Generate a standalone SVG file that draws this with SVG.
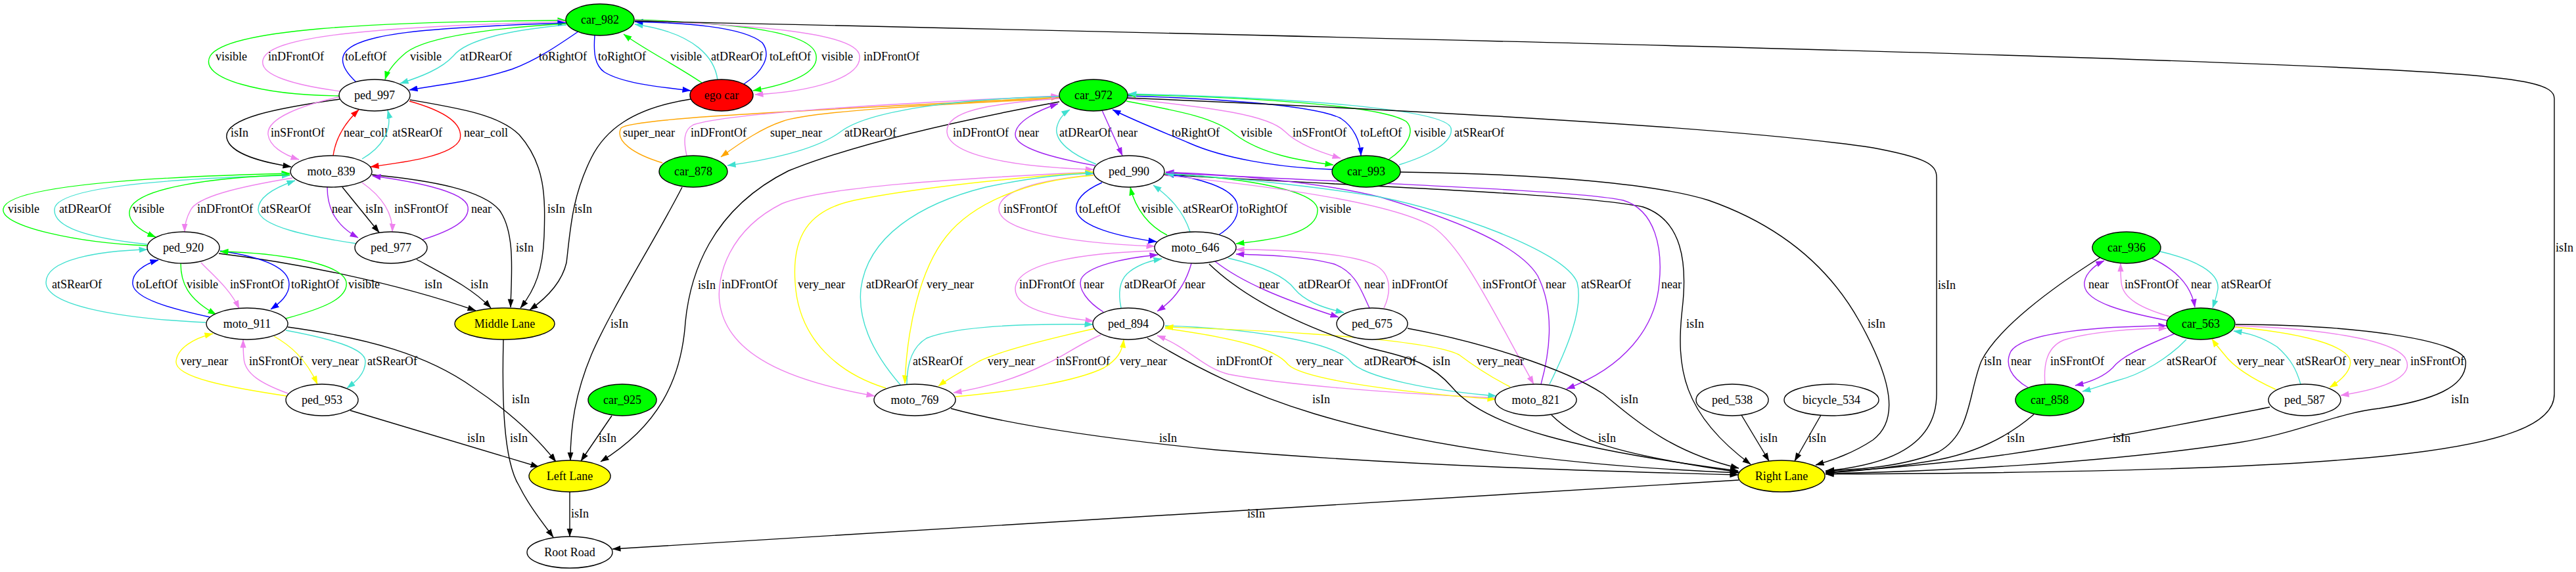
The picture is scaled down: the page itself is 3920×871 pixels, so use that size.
<svg xmlns="http://www.w3.org/2000/svg" width="3920" height="871" viewBox="0 0 3920 871">
<style>
.bg{fill:#fff}
.n ellipse{stroke:#000;stroke-width:1.4}
.w{fill:#fff}.c{fill:#00ff00}.eg{fill:#ff0000}.ln{fill:#ffff00}
text{font-family:"Liberation Serif","Times New Roman",serif;font-size:18px;fill:#000}
.n text{text-anchor:middle}
.e{fill:none;stroke-width:1.4}
.k{stroke:#000;marker-end:url(#mk)}
.g{stroke:#00ff00;marker-end:url(#mg)}
.b{stroke:#0000ff;marker-end:url(#mb)}
.v{stroke:#ee82ee;marker-end:url(#mv)}
.p{stroke:#a020f0;marker-end:url(#mp)}
.t{stroke:#40e0d0;marker-end:url(#mt)}
.r{stroke:#ff0000;marker-end:url(#mr)}
.y{stroke:#ffff00;marker-end:url(#my)}
.o{stroke:#ffa500;marker-end:url(#mo)}
</style>
<defs>
<marker id="mk" viewBox="0 0 13 10" refX="12.5" refY="5" markerWidth="13" markerHeight="10" markerUnits="userSpaceOnUse" orient="auto"><path d="M0,0.4 L13,5 L0,9.6 z" fill="#000"/></marker>
<marker id="mg" viewBox="0 0 13 10" refX="12.5" refY="5" markerWidth="13" markerHeight="10" markerUnits="userSpaceOnUse" orient="auto"><path d="M0,0.4 L13,5 L0,9.6 z" fill="#00ff00"/></marker>
<marker id="mb" viewBox="0 0 13 10" refX="12.5" refY="5" markerWidth="13" markerHeight="10" markerUnits="userSpaceOnUse" orient="auto"><path d="M0,0.4 L13,5 L0,9.6 z" fill="#0000ff"/></marker>
<marker id="mv" viewBox="0 0 13 10" refX="12.5" refY="5" markerWidth="13" markerHeight="10" markerUnits="userSpaceOnUse" orient="auto"><path d="M0,0.4 L13,5 L0,9.6 z" fill="#ee82ee"/></marker>
<marker id="mp" viewBox="0 0 13 10" refX="12.5" refY="5" markerWidth="13" markerHeight="10" markerUnits="userSpaceOnUse" orient="auto"><path d="M0,0.4 L13,5 L0,9.6 z" fill="#a020f0"/></marker>
<marker id="mt" viewBox="0 0 13 10" refX="12.5" refY="5" markerWidth="13" markerHeight="10" markerUnits="userSpaceOnUse" orient="auto"><path d="M0,0.4 L13,5 L0,9.6 z" fill="#40e0d0"/></marker>
<marker id="mr" viewBox="0 0 13 10" refX="12.5" refY="5" markerWidth="13" markerHeight="10" markerUnits="userSpaceOnUse" orient="auto"><path d="M0,0.4 L13,5 L0,9.6 z" fill="#ff0000"/></marker>
<marker id="my" viewBox="0 0 13 10" refX="12.5" refY="5" markerWidth="13" markerHeight="10" markerUnits="userSpaceOnUse" orient="auto"><path d="M0,0.4 L13,5 L0,9.6 z" fill="#ffff00"/></marker>
<marker id="mo" viewBox="0 0 13 10" refX="12.5" refY="5" markerWidth="13" markerHeight="10" markerUnits="userSpaceOnUse" orient="auto"><path d="M0,0.4 L13,5 L0,9.6 z" fill="#ffa500"/></marker>
</defs>
<rect class="bg" x="0" y="0" width="3920" height="871"/>
<g id="edges">
<path class="e g" d="M517,146 C400,145 300,120 320,85 C345,45 560,33 861,31"/><text x="328" y="92">visible</text>
<path class="e v" d="M518,139 C450,130 395,115 400,92 C405,60 520,42 861,33"/><text x="408" y="92">inDFrontOf</text>
<path class="e b" d="M542,125 C528,112 515,95 525,80 C545,52 640,42 861,35"/><text x="525" y="92">toLeftOf</text>
<path class="e g" d="M862,36 C760,42 650,55 618,80 C600,95 590,108 586,121"/><text x="624" y="92">visible</text>
<path class="e t" d="M862,38 C780,45 710,60 690,85 C672,105 640,117 609,127"/><text x="700" y="92">atDRearOf</text>
<path class="e b" d="M880,48 C845,72 815,92 780,105 C720,125 660,130 623,137"/><text x="820" y="92">toRightOf</text>
<path class="e b" d="M905,54 C903,80 905,100 920,110 C950,128 1010,133 1051,138"/><text x="910" y="92">toRightOf</text>
<path class="e g" d="M1068,126 C1030,100 980,75 949,52"/><text x="1020" y="92">visible</text>
<path class="e t" d="M1092,122 C1088,90 1060,50 966,37"/><text x="1082" y="92">atDRearOf</text>
<path class="e b" d="M1132,128 C1160,110 1175,85 1160,65 C1130,40 1040,35 966,33"/><text x="1171" y="92">toLeftOf</text>
<path class="e g" d="M966,30 C1100,35 1238,45 1242,85 C1246,115 1190,130 1146,138"/><text x="1250" y="92">visible</text>
<path class="e v" d="M966,31 C1150,38 1305,50 1308,85 C1312,120 1230,140 1149,144"/><text x="1314" y="92">inDFrontOf</text>
<path class="e k" d="M966,32 C2000,55 3300,85 3700,110 C3850,120 3887,130 3887,150 L3887,600 C3887,690 3600,718 2778,722"/><text x="3889" y="383">isIn</text>

<path class="e k" d="M517,151 C420,165 340,180 345,210 C350,235 400,247 443,254"/><text x="351" y="208">isIn</text>
<path class="e v" d="M519,147 C460,160 405,180 408,205 C410,222 430,235 455,243"/><text x="412" y="208">inSFrontOf</text>
<path class="e r" d="M507,237 C510,215 522,190 546,167"/><text x="523" y="208">near_coll</text>
<path class="e t" d="M551,242 C580,225 598,200 590,168"/><text x="597" y="208">atSRearOf</text>
<path class="e r" d="M623,154 C680,170 705,190 700,212 C690,238 610,248 564,254"/><text x="706" y="208">near_coll</text>
<path class="e k" d="M624,152 C700,165 760,175 790,205 C830,250 830,300 828,360 C826,410 815,440 792,469"/><text x="833" y="324">isIn</text>
<path class="e k" d="M1051,151 C960,165 920,200 900,240 C870,300 868,350 862,400 C855,430 830,455 806,472"/><text x="874" y="324">isIn</text>
<path class="e k" d="M566,266 C660,275 735,290 760,320 C785,355 778,420 777,468"/><text x="785" y="383">isIn</text>
<path class="e k" d="M634,395 C680,420 720,440 747,469"/><text x="716" y="439">isIn</text>
<path class="e k" d="M333,386 C450,400 600,430 724,473"/><text x="646" y="439">isIn</text>

<path class="e g" d="M224,374 C120,370 0,345 5,318 C10,285 200,270 441,264"/><text x="12" y="324">visible</text>
<path class="e t" d="M224,372 C130,362 80,345 83,318 C86,285 250,272 441,267"/><text x="90" y="324">atDRearOf</text>
<path class="e g" d="M441,266 C330,270 210,285 198,318 C192,335 210,350 237,361"/><text x="202" y="324">visible</text>
<path class="e v" d="M445,271 C360,285 300,300 290,320 C283,333 281,342 281,353"/><text x="300" y="324">inDFrontOf</text>
<path class="e t" d="M543,371 C470,360 395,345 393,320 C392,300 420,285 449,275"/><text x="397" y="324">atSRearOf</text>
<path class="e p" d="M498,285 C498,310 505,340 545,362"/><text x="505" y="324">near</text>
<path class="e k" d="M521,285 L577,354"/><text x="556" y="324">isIn</text>
<path class="e v" d="M551,278 C575,295 598,320 597,353"/><text x="600" y="324">inSFrontOf</text>
<path class="e p" d="M643,365 C690,350 715,335 712,315 C708,290 620,275 567,268"/><text x="717" y="324">near</text>

<path class="e t" d="M313,491 C180,485 70,465 70,430 C70,395 150,382 224,380"/><text x="79" y="439">atSRearOf</text>
<path class="e b" d="M320,483 C260,470 205,455 202,433 C200,415 220,402 241,396"/><text x="207" y="439">toLeftOf</text>
<path class="e g" d="M275,401 C275,430 285,455 329,479"/><text x="284" y="439">visible</text>
<path class="e v" d="M306,400 C325,420 350,440 364,470"/><text x="350" y="439">inSFrontOf</text>
<path class="e b" d="M335,382 C390,390 440,405 440,433 C440,450 425,462 412,471"/><text x="443" y="439">toRightOf</text>
<path class="e g" d="M435,485 C490,470 530,455 527,430 C522,400 420,385 335,383"/><text x="530" y="439">visible</text>

<path class="e y" d="M436,603 C350,590 265,575 268,550 C270,530 295,515 324,508"/><text x="275" y="556">very_near</text>
<path class="e v" d="M438,599 C400,585 372,570 371,545 C370,535 370,525 370,517"/><text x="379" y="556">inSFrontOf</text>
<path class="e y" d="M417,512 C440,525 465,545 483,585"/><text x="474" y="556">very_near</text>
<path class="e t" d="M435,503 C500,515 556,530 556,550 C556,570 540,582 528,591"/><text x="559" y="556">atSRearOf</text>

<path class="e k" d="M438,498 C560,515 650,540 720,590 C780,630 820,670 846,703"/><text x="779" y="614">isIn</text>
<path class="e k" d="M533,625 L820,711"/><text x="711" y="673">isIn</text>
<path class="e k" d="M931,633 L884,702"/><text x="911" y="673">isIn</text>
<path class="e k" d="M1038,285 C1000,360 930,470 900,540 C875,600 868,650 868,701"/><text x="929" y="499">isIn</text>
<path class="e k" d="M1612,155 C1450,185 1300,220 1200,260 C1080,320 1050,420 1043,490 C1037,580 1000,650 914,703"/><text x="1062" y="440">isIn</text>
<path class="e k" d="M766,517 C764,600 765,700 790,740 C805,770 825,795 842,818"/><text x="776" y="673">isIn</text>
<path class="e k" d="M867,749 L867,817"/><text x="869" y="788">isIn</text>
<path class="e k" d="M2646,731 L932,836"/><text x="1898" y="788">isIn</text>

<path class="e o" d="M1008,248 C965,235 935,215 945,195 C960,180 1200,170 1612,148"/><text x="948" y="208">super_near</text>
<path class="e v" d="M1045,237 C1040,215 1040,198 1055,190 C1100,175 1300,160 1612,146"/><text x="1051" y="208">inDFrontOf</text>
<path class="e o" d="M1612,150 C1400,160 1230,170 1190,185 C1160,195 1130,215 1097,239"/><text x="1172" y="208">super_near</text>
<path class="e t" d="M1612,147 C1450,150 1320,170 1280,200 C1240,230 1160,245 1107,252"/><text x="1285" y="208">atDRearOf</text>

<path class="e v" d="M1612,150 C1500,158 1440,170 1441,200 C1442,240 1560,255 1664,258"/><text x="1450" y="208">inDFrontOf</text>
<path class="e p" d="M1666,252 C1600,240 1545,225 1545,205 C1545,185 1580,168 1610,158"/><text x="1550" y="208">near</text>
<path class="e t" d="M1668,250 C1630,235 1605,215 1608,195 C1610,185 1615,175 1628,167"/><text x="1612" y="208">atDRearOf</text>
<path class="e p" d="M1677,168 L1708,237"/><text x="1700" y="208">near</text>

<path class="e b" d="M2027,258 C1940,255 1860,240 1810,218 C1760,197 1725,183 1693,167"/><text x="1783" y="208">toRightOf</text>
<path class="e g" d="M1714,154 C1800,170 1850,180 1880,205 C1920,235 1980,245 2029,251"/><text x="1888" y="208">visible</text>
<path class="e v" d="M1715,150 C1850,165 1930,175 1955,200 C1975,220 2010,232 2040,241"/><text x="1967" y="208">inSFrontOf</text>
<path class="e b" d="M1716,146 C1850,150 2000,160 2040,180 C2060,193 2070,215 2071,237"/><text x="2070" y="208">toLeftOf</text>
<path class="e g" d="M2113,243 C2140,225 2155,200 2140,185 C2100,160 1900,148 1716,144"/><text x="2152" y="208">visible</text>
<path class="e t" d="M2129,251 C2180,235 2212,215 2208,195 C2200,165 1950,148 1717,143"/><text x="2213" y="208">atSRearOf</text>
<path class="e k" d="M1716,149 C2200,170 2650,195 2850,225 C2930,240 2947,250 2947,270 L2947,600 C2947,690 2850,710 2779,717"/><text x="2949" y="440">isIn</text>
<path class="e k" d="M2131,262 C2350,265 2520,280 2600,305 C2700,340 2780,400 2830,490 C2880,580 2890,640 2850,670 C2820,690 2790,700 2763,708"/><text x="2842" y="499">isIn</text>
<path class="e k" d="M1771,266 C2100,285 2400,295 2500,315 C2560,335 2568,400 2560,470 C2550,560 2560,630 2664,707"/><text x="2566" y="499">isIn</text>

<path class="e v" d="M1664,266 C1580,275 1520,290 1520,318 C1520,350 1620,370 1757,375"/><text x="1527" y="324">inSFrontOf</text>
<path class="e b" d="M1677,278 C1650,290 1635,305 1638,322 C1645,345 1700,360 1760,368"/><text x="1642" y="324">toLeftOf</text>
<path class="e g" d="M1776,358 C1750,345 1728,320 1720,285"/><text x="1737" y="324">visible</text>
<path class="e t" d="M1811,353 C1800,320 1780,300 1755,282"/><text x="1800" y="324">atSRearOf</text>
<path class="e b" d="M1854,358 C1875,345 1886,330 1883,312 C1878,285 1820,270 1774,265"/><text x="1886" y="324">toRightOf</text>
<path class="e g" d="M1773,264 C1900,272 2005,290 2005,320 C2005,355 1940,365 1881,371"/><text x="2008" y="324">visible</text>

<path class="e v" d="M1664,262 C1450,272 1250,285 1190,310 C1110,350 1090,420 1095,460 C1105,540 1200,580 1331,603"/><text x="1098" y="439">inDFrontOf</text>
<path class="e y" d="M1348,591 C1280,570 1215,520 1210,430 C1205,360 1230,320 1300,305 C1400,285 1550,270 1664,262"/><text x="1214" y="439">very_near</text>
<path class="e t" d="M1371,587 C1330,540 1305,490 1310,440 C1320,360 1400,310 1500,285 C1570,270 1620,265 1664,264"/><text x="1318" y="439">atDRearOf</text>
<path class="e y" d="M1664,267 C1560,275 1480,310 1440,360 C1400,410 1380,500 1377,584"/><text x="1410" y="439">very_near</text>

<path class="e v" d="M1772,267 C1950,285 2120,310 2180,345 C2225,375 2270,470 2334,585"/><text x="2256" y="439">inSFrontOf</text>
<path class="e p" d="M2345,585 C2360,530 2365,470 2340,420 C2310,370 2200,330 2100,300 C2000,275 1850,265 1774,262"/><text x="2352" y="439">near</text>
<path class="e t" d="M2358,585 C2385,530 2410,470 2400,430 C2380,380 2200,320 2100,300 C2000,283 1850,268 1774,265"/><text x="2406" y="439">atSRearOf</text>
<path class="e p" d="M1774,263 C2100,280 2400,290 2470,305 C2520,320 2530,380 2525,430 C2520,500 2470,560 2384,592"/><text x="2528" y="439">near</text>

<path class="e v" d="M1757,382 C1650,385 1545,400 1545,440 C1545,470 1600,482 1664,489"/><text x="1551" y="439">inDFrontOf</text>
<path class="e p" d="M1679,475 C1655,460 1640,440 1645,425 C1655,405 1710,393 1762,388"/><text x="1649" y="439">near</text>
<path class="e t" d="M1706,469 C1702,450 1702,430 1715,417 C1728,405 1745,398 1768,394"/><text x="1711" y="439">atDRearOf</text>
<path class="e p" d="M1813,401 C1805,430 1790,455 1761,474"/><text x="1803" y="439">near</text>

<path class="e p" d="M1849,398 C1890,430 1950,455 2037,483"/><text x="1916" y="439">near</text>
<path class="e t" d="M1869,393 C1920,405 1955,420 1970,440 C1985,458 2010,468 2045,476"/><text x="1976" y="439">atDRearOf</text>
<path class="e p" d="M2084,469 C2072,445 2065,415 2030,402 C1985,390 1920,388 1881,387"/><text x="2076" y="439">near</text>
<path class="e v" d="M2106,469 C2115,450 2120,420 2095,405 C2060,385 1950,380 1881,380"/><text x="2118" y="439">inDFrontOf</text>

<path class="e t" d="M1380,585 C1380,560 1385,530 1410,515 C1460,495 1580,493 1663,494"/><text x="1389" y="556">atSRearOf</text>
<path class="e y" d="M1667,500 C1600,515 1520,535 1490,550 C1465,565 1445,575 1428,588"/><text x="1503" y="556">very_near</text>
<path class="e v" d="M1675,510 C1640,525 1615,545 1590,555 C1550,575 1500,590 1451,598"/><text x="1607" y="556">inSFrontOf</text>
<path class="e y" d="M1454,604 C1550,595 1640,580 1680,560 C1700,548 1708,535 1710,517"/><text x="1704" y="556">very_near</text>

<path class="e v" d="M2276,606 C2100,598 1950,585 1870,570 C1830,560 1810,530 1761,511"/><text x="1851" y="556">inDFrontOf</text>
<path class="e y" d="M1773,500 C1880,515 1940,530 1960,555 C1980,575 2100,595 2276,608"/><text x="1972" y="556">very_near</text>
<path class="e t" d="M1773,496 C1900,500 2030,520 2055,550 C2075,575 2180,595 2277,603"/><text x="2076" y="556">atDRearOf</text>
<path class="e y" d="M2298,589 C2270,575 2240,555 2220,540 C2180,520 2000,505 1773,498"/><text x="2247" y="556">very_near</text>

<path class="e k" d="M1447,622 C1550,650 1700,670 1850,685 C2150,710 2450,718 2645,723"/><text x="1764" y="673">isIn</text>
<path class="e k" d="M1746,515 C1820,560 1900,600 2000,630 C2200,690 2450,712 2645,720"/><text x="1997" y="614">isIn</text>
<path class="e k" d="M1840,402 C1900,460 1990,500 2084,530 C2150,545 2180,555 2210,590 C2260,650 2400,685 2645,717"/><text x="2180" y="556">isIn</text>
<path class="e k" d="M2142,500 C2250,520 2380,560 2440,600 C2500,650 2550,690 2646,713"/><text x="2466" y="614">isIn</text>
<path class="e k" d="M2361,632 C2400,670 2450,690 2646,719"/><text x="2432" y="673">isIn</text>
<path class="e k" d="M2650,632 L2692,702"/><text x="2678" y="673">isIn</text>
<path class="e k" d="M2771,632 L2731,702"/><text x="2752" y="673">isIn</text>
<path class="e k" d="M3196,392 C3120,440 3040,500 3015,550 C2995,600 3000,660 2950,688 C2900,710 2830,715 2778,717"/><text x="3019" y="556">isIn</text>
<path class="e k" d="M3095,631 C3050,670 3000,690 2950,700 C2880,712 2820,718 2778,720"/><text x="3054" y="673">isIn</text>
<path class="e k" d="M3402,494 C3600,495 3750,520 3752,550 C3755,590 3700,610 3620,622 C3550,630 3500,660 3400,675 C3200,705 2950,718 2778,721"/><text x="3730" y="614">isIn</text>
<path class="e k" d="M3454,620 C3300,650 3100,690 2950,705 C2880,712 2820,717 2778,719"/><text x="3215" y="673">isIn</text>

<path class="e p" d="M3298,488 C3230,475 3175,460 3172,435 C3170,420 3185,405 3202,397"/><text x="3178" y="439">near</text>
<path class="e v" d="M3302,482 C3260,470 3230,455 3228,430 C3227,420 3227,410 3227,401"/><text x="3233" y="439">inSFrontOf</text>
<path class="e p" d="M3274,393 C3310,410 3335,435 3340,468"/><text x="3334" y="439">near</text>
<path class="e t" d="M3287,383 C3340,395 3378,415 3375,440 C3373,452 3370,460 3367,469"/><text x="3380" y="439">atSRearOf</text>

<path class="e p" d="M3086,590 C3060,575 3050,555 3060,535 C3080,505 3200,497 3297,496"/><text x="3060" y="556">near</text>
<path class="e v" d="M3112,585 C3110,560 3112,530 3140,518 C3180,505 3250,500 3297,500"/><text x="3120" y="556">inSFrontOf</text>
<path class="e p" d="M3309,508 C3270,525 3230,540 3215,560 C3200,575 3180,582 3158,587"/><text x="3234" y="556">near</text>
<path class="e t" d="M3327,517 C3300,545 3260,570 3220,580 C3200,586 3185,592 3169,596"/><text x="3297" y="556">atSRearOf</text>

<path class="e y" d="M3463,593 C3430,578 3400,560 3385,540 C3375,528 3370,522 3366,516"/><text x="3404" y="556">very_near</text>
<path class="e t" d="M3501,585 C3495,565 3488,548 3465,528 C3440,512 3420,507 3399,504"/><text x="3494" y="556">atSRearOf</text>
<path class="e y" d="M3401,498 C3480,505 3560,520 3575,545 C3582,560 3565,578 3545,590"/><text x="3581" y="556">very_near</text>
<path class="e v" d="M3402,496 C3520,500 3640,515 3660,545 C3675,570 3640,590 3562,602"/><text x="3668" y="556">inSFrontOf</text>
</g>
<g id="nodes">
<g id="car_982" class="n"><ellipse class="c" cx="913" cy="30" rx="52" ry="24"/><text x="913" y="36">car_982</text></g>
<g id="ego_car" class="n"><ellipse class="eg" cx="1098" cy="145" rx="48" ry="24"/><text x="1098" y="151">ego car</text></g>
<g id="ped_997" class="n"><ellipse class="w" cx="570" cy="145" rx="54" ry="24"/><text x="570" y="151">ped_997</text></g>
<g id="moto_839" class="n"><ellipse class="w" cx="504" cy="261" rx="62" ry="24"/><text x="504" y="267">moto_839</text></g>
<g id="ped_920" class="n"><ellipse class="w" cx="279" cy="377" rx="55" ry="24"/><text x="279" y="383">ped_920</text></g>
<g id="ped_977" class="n"><ellipse class="w" cx="595" cy="377" rx="55" ry="24"/><text x="595" y="383">ped_977</text></g>
<g id="moto_911" class="n"><ellipse class="w" cx="376" cy="493" rx="62" ry="24"/><text x="376" y="499">moto_911</text></g>
<g id="ped_953" class="n"><ellipse class="w" cx="490" cy="609" rx="55" ry="24"/><text x="490" y="615">ped_953</text></g>
<g id="middle_lane" class="n"><ellipse class="ln" cx="768" cy="493" rx="76" ry="24"/><text x="768" y="499">Middle Lane</text></g>
<g id="car_925" class="n"><ellipse class="c" cx="947" cy="609" rx="52" ry="24"/><text x="947" y="615">car_925</text></g>
<g id="left_lane" class="n"><ellipse class="ln" cx="867" cy="725" rx="62" ry="24"/><text x="867" y="731">Left Lane</text></g>
<g id="root_road" class="n"><ellipse class="w" cx="867" cy="841" rx="65" ry="24"/><text x="867" y="847">Root Road</text></g>
<g id="car_878" class="n"><ellipse class="c" cx="1055" cy="261" rx="52" ry="24"/><text x="1055" y="267">car_878</text></g>
<g id="car_972" class="n"><ellipse class="c" cx="1664" cy="145" rx="52" ry="24"/><text x="1664" y="151">car_972</text></g>
<g id="ped_990" class="n"><ellipse class="w" cx="1718" cy="261" rx="54" ry="24"/><text x="1718" y="267">ped_990</text></g>
<g id="car_993" class="n"><ellipse class="c" cx="2079" cy="261" rx="52" ry="24"/><text x="2079" y="267">car_993</text></g>
<g id="moto_646" class="n"><ellipse class="w" cx="1819" cy="377" rx="62" ry="24"/><text x="1819" y="383">moto_646</text></g>
<g id="ped_894" class="n"><ellipse class="w" cx="1717" cy="493" rx="54" ry="24"/><text x="1717" y="499">ped_894</text></g>
<g id="ped_675" class="n"><ellipse class="w" cx="2088" cy="493" rx="54" ry="24"/><text x="2088" y="499">ped_675</text></g>
<g id="moto_769" class="n"><ellipse class="w" cx="1392" cy="609" rx="62" ry="24"/><text x="1392" y="615">moto_769</text></g>
<g id="moto_821" class="n"><ellipse class="w" cx="2337" cy="609" rx="62" ry="24"/><text x="2337" y="615">moto_821</text></g>
<g id="right_lane" class="n"><ellipse class="ln" cx="2711" cy="725" rx="66" ry="24"/><text x="2711" y="731">Right Lane</text></g>
<g id="ped_538" class="n"><ellipse class="w" cx="2636" cy="609" rx="55" ry="24"/><text x="2636" y="615">ped_538</text></g>
<g id="bicycle_534" class="n"><ellipse class="w" cx="2787" cy="609" rx="72" ry="24"/><text x="2787" y="615">bicycle_534</text></g>
<g id="car_936" class="n"><ellipse class="c" cx="3236" cy="377" rx="52" ry="24"/><text x="3236" y="383">car_936</text></g>
<g id="car_563" class="n"><ellipse class="c" cx="3349" cy="493" rx="52" ry="24"/><text x="3349" y="499">car_563</text></g>
<g id="car_858" class="n"><ellipse class="c" cx="3119" cy="609" rx="52" ry="24"/><text x="3119" y="615">car_858</text></g>
<g id="ped_587" class="n"><ellipse class="w" cx="3507" cy="609" rx="55" ry="24"/><text x="3507" y="615">ped_587</text></g>
</g>
</svg>
